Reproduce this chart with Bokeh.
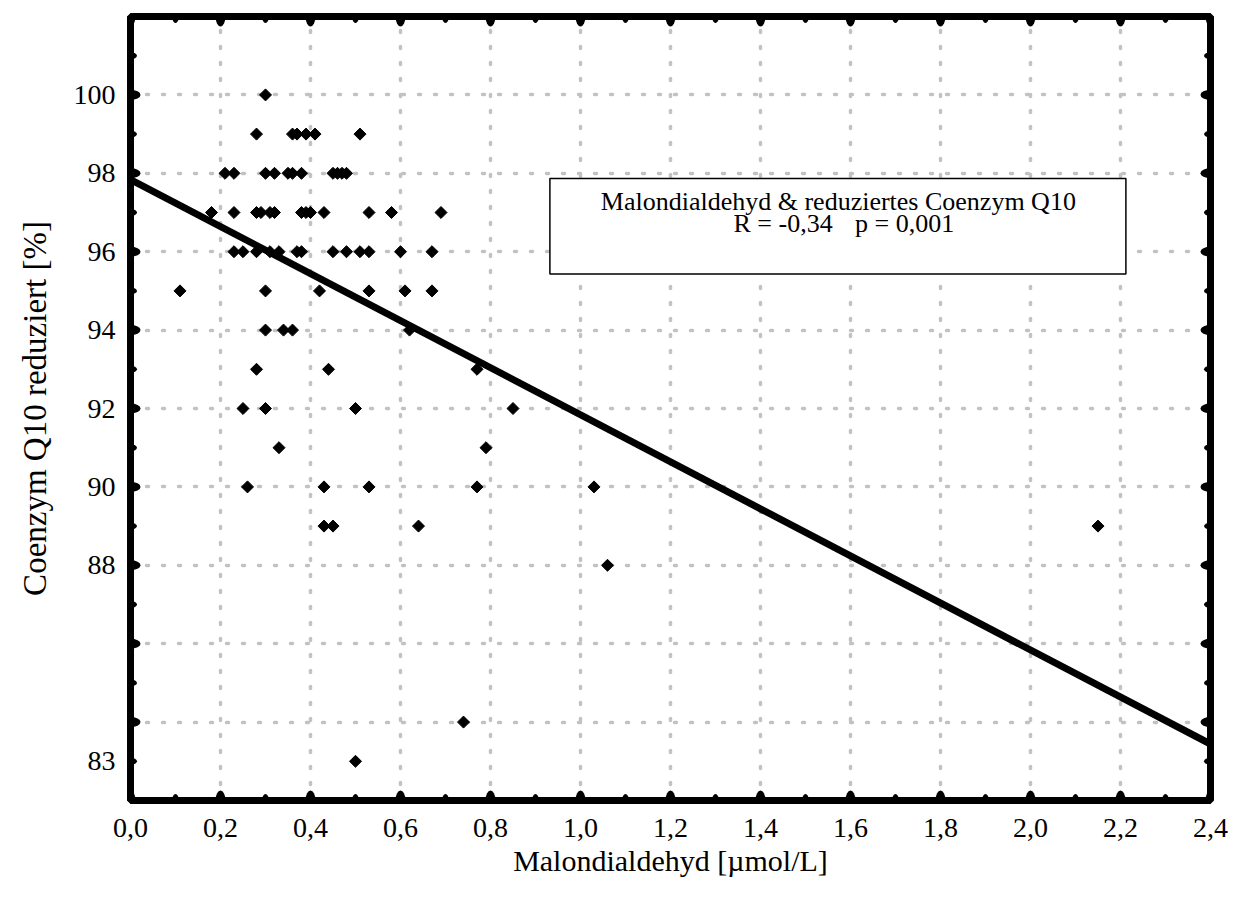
import numpy as np
from bokeh.plotting import figure
from bokeh.models import FixedTicker, BoxAnnotation, Label, Range1d
from bokeh.embed import file_html
from bokeh.resources import INLINE

# ---------------- data ----------------
x_vals = [
    0.30,
    0.28, 0.36, 0.37, 0.39, 0.41, 0.51,
    0.21, 0.23, 0.30, 0.32, 0.35, 0.36, 0.38, 0.45, 0.46, 0.47, 0.48,
    0.18, 0.23, 0.28, 0.29, 0.31, 0.32, 0.38, 0.39, 0.40, 0.43, 0.53, 0.58, 0.69,
    0.23, 0.25, 0.28, 0.31, 0.33, 0.37, 0.38, 0.45, 0.48, 0.51, 0.53, 0.60, 0.67,
    0.11, 0.30, 0.42, 0.53, 0.61, 0.67,
    0.30, 0.34, 0.36, 0.62,
    0.28, 0.44, 0.77,
    0.25, 0.30, 0.50, 0.85,
    0.33, 0.79,
    0.26, 0.43, 0.53, 0.77, 1.03,
    0.43, 0.45, 0.64, 2.15,
    1.06,
    0.74,
    0.50,
]
y_vals = (
    [100] * 1 + [99] * 6 + [98] * 11 + [97] * 13 + [96] * 13 + [95] * 6 +
    [94] * 4 + [93] * 3 + [92] * 4 + [91] * 2 + [90] * 5 + [89] * 4 +
    [88] * 1 + [84] * 1 + [83] * 1
)

reg_intercept = 97.84
reg_slope = -6.0

x_ticks = [0.0, 0.2, 0.4, 0.6, 0.8, 1.0, 1.2, 1.4, 1.6, 1.8, 2.0, 2.2, 2.4]
x_tick_labels = ["0,0", "0,2", "0,4", "0,6", "0,8", "1,0", "1,2", "1,4",
                 "1,6", "1,8", "2,0", "2,2", "2,4"]
x_minor = [0.1, 0.3, 0.5, 0.7, 0.9, 1.1, 1.3, 1.5, 1.7, 1.9, 2.1, 2.3]

y_major = [84, 86, 88, 90, 92, 94, 96, 98, 100]
y_minor = [83, 85, 87, 89, 91, 93, 95, 97, 99, 101]
y_label_ticks = [83, 88, 90, 92, 94, 96, 98, 100]
y_tick_labels = ["83", "88", "90", "92", "94", "96", "98", "100"]

title_line1 = "Malondialdehyd & reduziertes Coenzym Q10"
title_r = "R = -0,34"
title_p = "p = 0,001"

FONT = "Liberation Serif"

X0, X1 = 0.0, 2.4
Y0, Y1 = 82.0, 102.0

# ---------------- figure ----------------
p = figure(
    frame_width=1080, frame_height=784,
    x_range=Range1d(X0, X1), y_range=Range1d(Y0, Y1),
    output_backend="svg", toolbar_location=None,
    min_border_left=130, min_border_right=28, min_border_top=16, min_border_bottom=104,
    background_fill_color="white", border_fill_color="white",
)
p.outline_line_color = "black"
p.outline_line_width = 7


def style_axis(ax):
    ax.axis_line_width = 7
    ax.axis_line_color = "black"
    ax.major_tick_line_color = None
    ax.minor_tick_line_color = None
    ax.major_tick_in = 0
    ax.major_tick_out = 0
    ax.minor_tick_in = 0
    ax.minor_tick_out = 0
    ax.major_label_text_font = FONT
    ax.major_label_text_color = "black"
    ax.major_label_text_font_size = "28px"
    ax.axis_label_text_font = FONT
    ax.axis_label_text_font_style = "normal"
    ax.axis_label_text_color = "black"


xa = p.xaxis[0]
style_axis(xa)
xa.ticker = FixedTicker(ticks=x_ticks)
xa.major_label_overrides = dict(zip(x_ticks, x_tick_labels))
xa.major_label_standoff = 18
xa.axis_label = "Malondialdehyd [µmol/L]"
xa.axis_label_text_font_size = "30px"
xa.axis_label_standoff = 4

ya = p.yaxis[0]
style_axis(ya)
ya.ticker = FixedTicker(ticks=y_label_ticks)
ya.major_label_overrides = dict(zip(y_label_ticks, y_tick_labels))
ya.major_label_standoff = 15
ya.axis_label = "Coenzym Q10 reduziert [%]"
ya.axis_label_text_font_size = "33px"
ya.axis_label_standoff = 18

p.xgrid.ticker = FixedTicker(ticks=x_ticks)
p.ygrid.ticker = FixedTicker(ticks=y_major)
for g in (p.xgrid[0], p.ygrid[0]):
    g.grid_line_color = "#c2c2c2"
    g.grid_line_width = 3.5
    g.grid_line_dash = "2 14"
    g.grid_line_cap = "round"

# inward tick dots on all four frame edges (half clipped by the frame)
def edge_dots(xs, ys, w, h):
    p.ellipse(x=xs, y=ys, width=w, height=h, width_units="screen",
              height_units="screen", fill_color="black", line_color=None)

for edge_y in (Y0, Y1):
    edge_dots(x_ticks, [edge_y] * len(x_ticks), 10, 20)
    edge_dots(x_minor, [edge_y] * len(x_minor), 7, 13)
for edge_x in (X0, X1):
    edge_dots([edge_x] * len(y_major), y_major, 20, 10)
    edge_dots([edge_x] * len(y_minor), y_minor, 13, 7)

# points
p.scatter(x_vals, y_vals, marker="square", size=8.5, angle=np.pi / 4,
          fill_color="black", line_color="black")

# regression line
reg_x = np.array([X0, X1])
reg_y = reg_intercept + reg_slope * reg_x
p.line(reg_x, reg_y, line_color="black", line_width=7)

# annotation box
box = BoxAnnotation(left=0.932, right=2.212, top=97.87, bottom=95.43,
                    fill_color="white", fill_alpha=1.0,
                    line_color="black", line_width=1.5, line_alpha=1.0)
p.add_layout(box)
p.add_layout(Label(x=1.573, y=97.29, text=title_line1, text_align="center",
                   text_baseline="alphabetic", text_font=FONT,
                   text_font_size="26px", text_color="black"))
p.add_layout(Label(x=1.34, y=96.73, text=title_r, text_align="left",
                   text_baseline="alphabetic", text_font=FONT,
                   text_font_size="26px", text_color="black"))
p.add_layout(Label(x=1.61, y=96.73, text=title_p, text_align="left",
                   text_baseline="alphabetic", text_font=FONT,
                   text_font_size="26px", text_color="black"))

open("out.html", "w").write(file_html(p, INLINE, "plot"))
